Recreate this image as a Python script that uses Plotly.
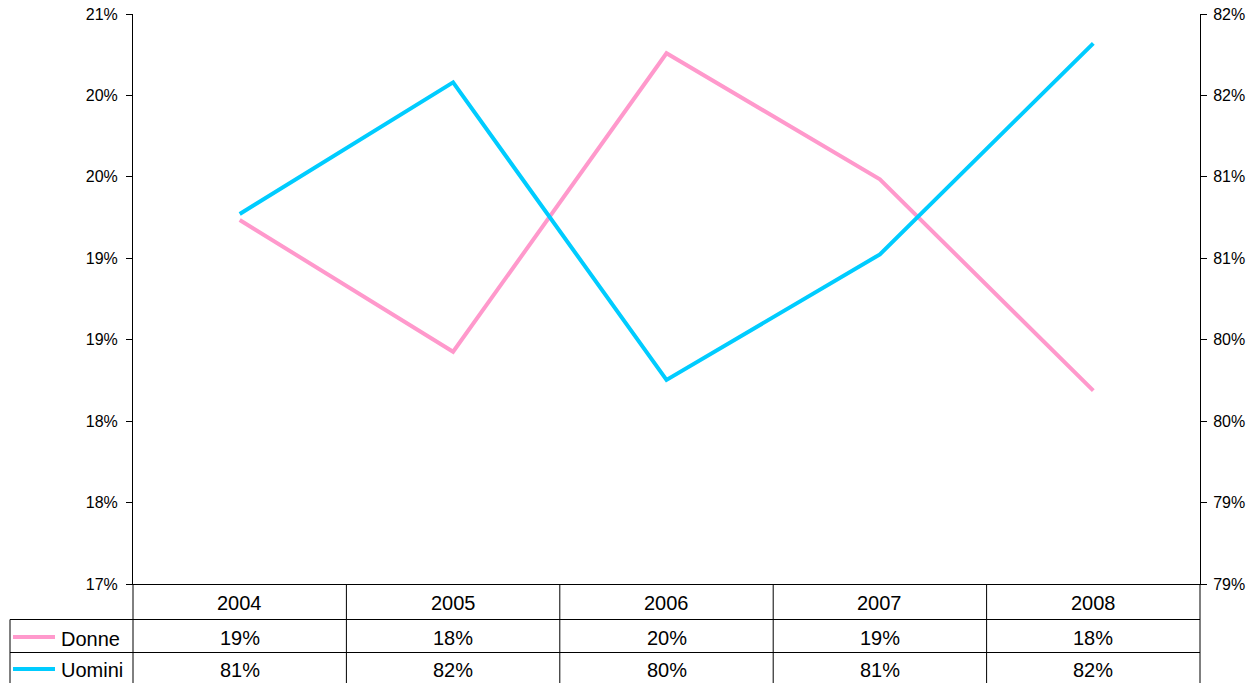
import math
import plotly.graph_objects as go

# Data
years = ["2004", "2005", "2006", "2007", "2008"]
donne = [19.235, 18.426, 20.259, 19.485, 18.187]
uomini = [80.772, 81.580, 79.753, 80.524, 81.820]

left_ticks = [17.0, 17.5, 18.0, 18.5, 19.0, 19.5, 20.0, 20.5]
right_ticks = [78.5, 79.0, 79.5, 80.0, 80.5, 81.0, 81.5, 82.0]

PINK = "#FF99CC"
CYAN = "#00CCFF"
FONT = "Liberation Sans, Arial, sans-serif"

W, H = 1260, 683
L, R, T, B = 133, 1200, 14, 584


def pct(v):
    return f"{math.floor(v + 0.5)}%"


def px_x(p):
    return (p - L) / (R - L)


def px_y(p):
    return (B - p) / (B - T)


fig = go.Figure()
fig.add_trace(go.Scatter(x=years, y=donne, name="Donne", mode="lines",
                         line=dict(color=PINK, width=4), yaxis="y"))
fig.add_trace(go.Scatter(x=years, y=uomini, name="Uomini", mode="lines",
                         line=dict(color=CYAN, width=4), yaxis="y2"))

axis_common = dict(showgrid=False, zeroline=False, showline=True,
                   linecolor="black", linewidth=1, ticks="outside",
                   ticklen=6, tickcolor="black", automargin=False,
                   tickfont=dict(family=FONT, size=16, color="black"))

fig.update_layout(
    width=W, height=H,
    margin=dict(l=L, r=W - R, t=T, b=H - B, pad=0, autoexpand=False),
    paper_bgcolor="white", plot_bgcolor="white",
    showlegend=False,
    xaxis=dict(type="category", range=[-0.5, 4.5], showgrid=False,
               zeroline=False, showline=True, linecolor="black",
               linewidth=1, showticklabels=False, ticks="", automargin=False),
    yaxis=dict(range=[17.0, 20.5], tickvals=left_ticks,
               ticktext=[pct(v) for v in left_ticks], ticklabelstandoff=5,
               **axis_common),
    yaxis2=dict(range=[78.5, 82.0], tickvals=right_ticks,
                ticktext=[pct(v) for v in right_ticks], overlaying="y",
                side="right", ticklabelstandoff=3, **axis_common),
)

# Data table below the plot
shapes = []
line_style = dict(color="black", width=1)
col_edges = [L + i * (R - L) / len(years) for i in range(len(years) + 1)]
row_lines = [619.5, 652.5]
for xe in col_edges:
    shapes.append(dict(type="line", xref="paper", yref="paper",
                       x0=px_x(xe), x1=px_x(xe), y0=px_y(B), y1=px_y(H + 2),
                       line=line_style))
for yl in row_lines:
    shapes.append(dict(type="line", xref="paper", yref="paper",
                       x0=px_x(10), x1=px_x(R), y0=px_y(yl), y1=px_y(yl),
                       line=line_style))
shapes.append(dict(type="line", xref="paper", yref="paper",
                   x0=px_x(10), x1=px_x(10), y0=px_y(row_lines[0]), y1=px_y(H + 2),
                   line=line_style))

# legend keys in the table's first column
for yk, col in [(637, PINK), (669, CYAN)]:
    shapes.append(dict(type="line", xref="paper", yref="paper",
                       x0=px_x(13), x1=px_x(55), y0=px_y(yk), y1=px_y(yk),
                       line=dict(color=col, width=4)))

annotations = []
cell_font = dict(family=FONT, size=20, color="black")
for i, yr in enumerate(years):
    for text, yc in [(yr, 603), (pct(donne[i]), 638), (pct(uomini[i]), 670)]:
        annotations.append(dict(x=i, xref="x", y=px_y(yc), yref="paper",
                                text=text, showarrow=False, font=cell_font,
                                xanchor="center", yanchor="middle"))
for name, yk in [("Donne", 639), ("Uomini", 670)]:
    annotations.append(dict(x=px_x(59), xref="paper", y=px_y(yk), yref="paper",
                            text=name, showarrow=False, font=cell_font,
                            xanchor="left", yanchor="middle"))

fig.update_layout(shapes=shapes, annotations=annotations)

fig.write_html("out.html")
